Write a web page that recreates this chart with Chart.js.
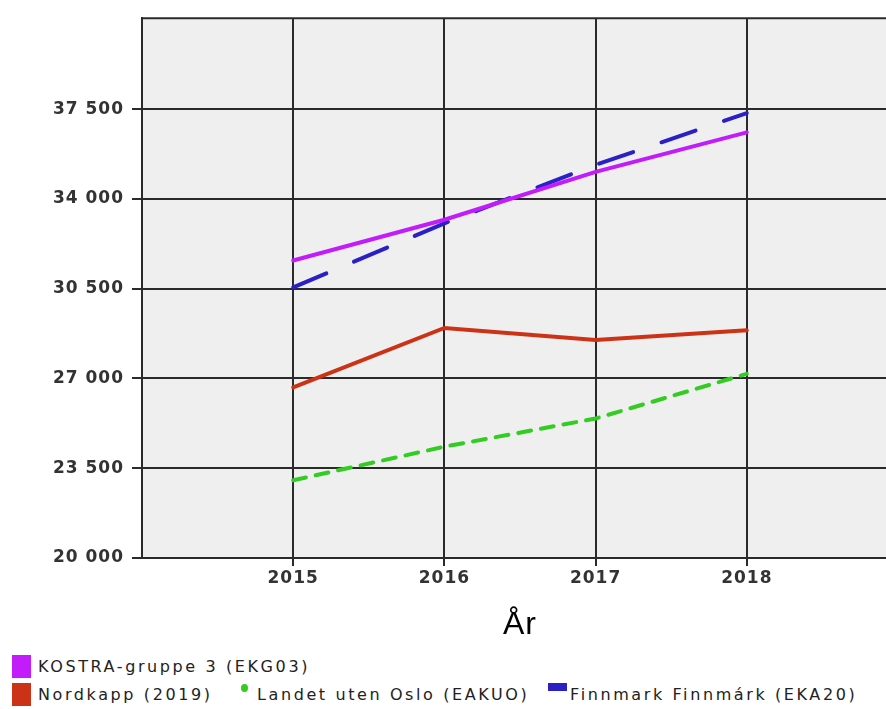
<!DOCTYPE html>
<html>
<head>
<meta charset="utf-8">
<script src="https://cdn.jsdelivr.net/npm/chart.js@4.4.1/dist/chart.umd.min.js"></script>
<style>
  html, body { margin: 0; padding: 0; background: #fff; overflow: hidden; }
  #wrap { position: relative; width: 886px; height: 709px; overflow: hidden; }
  #chart { position: absolute; left: 0; top: 0; }
  .leg { position: absolute; font-family: "DejaVu Sans", Verdana, sans-serif; font-size: 16px;
         letter-spacing: 2.6px; color: #222; white-space: nowrap; line-height: 18px; }
  .sw { position: absolute; }
</style>
</head>
<body>
<div id="wrap">
  <canvas id="chart" width="898" height="650"></canvas>

  <!-- legend -->
  <div class="sw" style="left:12px;top:655px;width:19px;height:23px;background:#c21cfb"></div>
  <div class="leg" style="left:38px;top:658px">KOSTRA-gruppe 3 (EKG03)</div>
  <div class="sw" style="left:12px;top:683px;width:19px;height:23px;background:#cc3316"></div>
  <div class="leg" style="left:38px;top:686px">Nordkapp (2019)</div>
  <div class="sw" style="left:241px;top:684px;width:7px;height:8px;border-radius:50%;background:#33cc22"></div>
  <div class="leg" style="left:257px;top:686px">Landet uten Oslo (EAKUO)</div>
  <div class="sw" style="left:548px;top:683px;width:19px;height:8px;background:#2b20c6"></div>
  <div class="leg" style="left:570px;top:686px">Finnmark Finnmárk (EKA20)</div>
</div>

<script>
const years = [2015, 2016, 2017, 2018];
const yTicks = [20000, 23500, 27000, 30500, 34000, 37500];

const kostra = [31600, 33190, 35060, 36600];
const finnmark = [30550, 33050, 35330, 37350];
const nordkapp = [26650, 28970, 28500, 28880];
const landet = [23030, 24340, 25440, 27180];

const toPoints = vals => vals.map((v, i) => ({ x: years[i], y: v }));

const GRID = '#2a2a2a';

// plot background, top border and text spacing
const plotFrame = {
  id: 'plotFrame',
  beforeUpdate(chart) { chart.ctx.letterSpacing = '1px'; },
  beforeDraw(chart) {
    const { ctx, chartArea: a } = chart;
    ctx.letterSpacing = '1px';
    ctx.save();
    ctx.fillStyle = '#efefef';
    ctx.fillRect(a.left, a.top, a.right - a.left, a.bottom - a.top);
    ctx.restore();
  },
  afterDatasetsDraw(chart) {
    const { ctx, chartArea: a } = chart;
    ctx.save();
    ctx.strokeStyle = GRID;
    ctx.lineWidth = 2;
    ctx.beginPath();
    ctx.moveTo(a.left, a.top);
    ctx.lineTo(a.right, a.top);
    ctx.stroke();
    ctx.restore();
  }
};

new Chart(document.getElementById('chart'), {
  type: 'line',
  data: {
    datasets: [
      { label: 'Nordkapp (2019)', data: toPoints(nordkapp), borderColor: '#cc3316', borderWidth: 4 },
      { label: 'Landet uten Oslo (EAKUO)', data: toPoints(landet), borderColor: '#33cc22', borderWidth: 4, borderDash: [13, 10] },
      { label: 'KOSTRA-gruppe 3 (EKG03)', data: toPoints(kostra), borderColor: '#c21cfb', borderWidth: 4 },
      { label: 'Finnmark Finnmárk (EKA20)', data: toPoints(finnmark), borderColor: '#2b20c6', borderWidth: 4, borderDash: [36, 30] }
    ]
  },
  options: {
    responsive: false,
    animation: false,
    layout: { padding: { top: 14, left: 0, right: 0, bottom: 0 } },
    elements: {
      point: { radius: 0 },
      line: { tension: 0, borderCapStyle: 'round', fill: false }
    },
    plugins: { legend: { display: false }, tooltip: { enabled: false } },
    scales: {
      x: {
        type: 'linear',
        min: 2014,
        max: 2019,
        afterBuildTicks: s => { s.ticks = years.map(v => ({ value: v })); },
        afterFit: s => { s.height = 92; },
        grid: { color: GRID, lineWidth: 2, tickLength: 8 },
        border: { color: GRID, width: 2 },
        ticks: {
          padding: 2,
          color: '#333',
          font: { family: 'DejaVu Sans', size: 17, weight: 'bold' },
          callback: v => String(v)
        },
        title: {
          display: true,
          text: 'År',
          color: '#000',
          font: { family: 'Liberation Sans', size: 32 },
          padding: { top: 0, bottom: 6 }
        }
      },
      y: {
        min: 20000,
        max: 41050,
        afterBuildTicks: s => { s.ticks = yTicks.map(v => ({ value: v })); },
        afterFit: s => { s.width = 142; },
        grid: { color: GRID, lineWidth: 2, tickLength: 10 },
        border: { color: GRID, width: 2 },
        ticks: {
          padding: 8,
          color: '#333',
          font: { family: 'DejaVu Sans', size: 17, weight: 'bold' },
          callback: v => v.toLocaleString('en-US').replace(',', ' ')
        }
      }
    }
  },
  plugins: [plotFrame]
});
</script>
</body>
</html>
